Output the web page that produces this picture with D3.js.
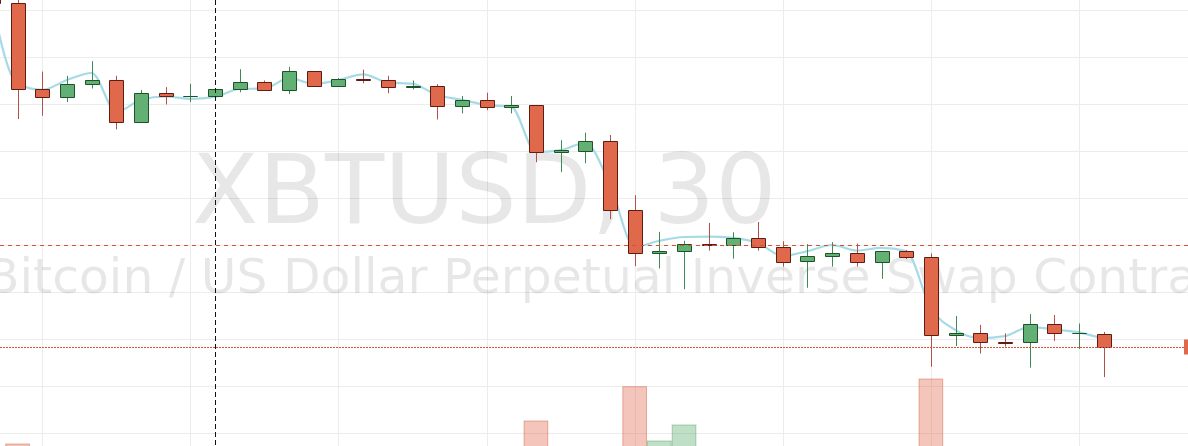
<!DOCTYPE html>
<html><head><meta charset="utf-8">
<script src="https://cdn.jsdelivr.net/npm/d3@7/dist/d3.min.js"></script>
<style>html,body{margin:0;padding:0;background:#fff;overflow:hidden}</style>
</head><body>
<svg id="chart" width="1188" height="446"></svg>
<script>
// XBTUSD 30-minute bars (index 0 is the bar just left of the view)
const times = ["08:30","09:00","09:30","10:00","10:30","11:00","11:30","12:00","12:30","13:00",
               "13:30","14:00","14:30","15:00","15:30","16:00","16:30","17:00","17:30","18:00",
               "18:30","19:00","19:30","20:00","20:30","21:00","21:30","22:00","22:30","23:00",
               "23:30","00:00","00:30","01:00","01:30","02:00","02:30","03:00","03:30","04:00",
               "04:30","05:00","05:30","06:00","06:30","07:00"];
const opens  = [6604.0,6591.4,6573.1,6571.4,6574.2,6575.0,6566.1,6572.3,6571.6,6571.6,
                6573.1,6574.7,6572.9,6577.0,6573.8,6575.3,6575.0,6573.6,6573.8,6569.6,
                6570.8,6569.3,6569.8,6559.7,6560.1,6562.1,6547.4,6538.4,6538.7,6540.2,
                6540.1,6541.4,6539.5,6536.5,6537.6,6538.3,6536.3,6538.7,6537.4,6520.8,
                6521.2,6519.3,6519.3,6523.1,6521.2,6521.1];
const highs  = [6606.0,6592.6,6576.9,6576.0,6579.1,6576.0,6573.0,6573.6,6574.3,6573.4,
                6577.4,6575.0,6577.9,6577.0,6575.5,6577.3,6576.0,6575.0,6574.2,6571.7,
                6572.4,6571.7,6569.8,6562.3,6563.9,6563.4,6550.6,6542.8,6540.9,6544.7,
                6542.7,6544.9,6540.8,6540.2,6540.6,6540.3,6538.7,6538.9,6538.2,6524.9,
                6523.0,6521.2,6525.3,6525.1,6523.3,6521.5];
const lows   = [6590.6,6566.8,6567.5,6570.4,6573.3,6564.6,6566.1,6569.9,6570.4,6571.6,
                6572.5,6572.9,6572.1,6573.8,6573.8,6574.4,6572.3,6573.1,6566.7,6568.0,
                6568.7,6568.0,6557.6,6555.5,6557.4,6545.5,6535.5,6535.0,6530.6,6538.8,
                6537.1,6538.8,6535.4,6530.9,6535.4,6535.4,6532.8,6537.0,6514.1,6518.5,
                6516.9,6518.4,6513.9,6519.6,6517.9,6511.9];
const closes = [6591.5,6573.1,6571.4,6574.2,6575.0,6566.1,6572.3,6571.6,6571.7,6573.2,
                6574.7,6572.9,6577.0,6573.8,6575.3,6575.1,6573.6,6573.8,6569.5,6570.9,
                6569.3,6569.8,6559.7,6560.2,6562.1,6547.4,6538.4,6538.7,6540.2,6540.1,
                6541.4,6539.5,6536.4,6537.7,6538.3,6536.3,6538.7,6537.4,6520.8,6521.2,
                6519.3,6519.2,6523.1,6521.2,6521.3,6518.3];
// volume, millions of contracts
const volumes = [2.5,3.6,2.1,1.6,1.8,2.9,2.4,1.2,1.0,1.3,
                 1.5,0.9,1.9,1.4,0.8,0.9,1.1,0.7,2.6,1.2,
                 1.3,0.9,5.9,2.2,1.8,3.3,9.33,3.9,5.5,2.0,
                 1.6,1.9,2.3,2.5,1.2,1.7,2.0,0.9,10.1,2.8,
                 2.4,1.1,3.1,1.6,1.0,2.7];
// moving-average line
const maValues = [6590.4,6574.3,6573.0,6575.1,6576.6,6568.3,6570.9,6571.6,6571.1,6571.5,
                  6573.2,6573.3,6575.5,6574.3,6575.1,6576.3,6574.6,6574.3,6571.9,6570.9,
                  6569.8,6569.4,6559.8,6560.2,6561.7,6552.8,6539.6,6540.9,6541.7,6541.8,
                  6541.5,6540.4,6537.7,6538.7,6540.0,6538.8,6539.4,6538.7,6526.6,6521.9,
                  6520.2,6520.6,6522.6,6522.0,6521.4,6520.0];
const priceTicks = [6590,6580,6570,6560,6550,6540,6530,6520,6510,6500];
const timeTickLabels = ["09:30","12:30","15:30","18:30","21:30","00:30","03:30","06:30"];
const referencePrice = 6539.9;   // dashed red price line
const crosshairTime = "13:00";
const symbolText = "XBTUSD, 30";
const descriptionText = "Bitcoin / US Dollar Perpetual Inverse Swap Contract";

const W = 1188, H = 446;
const svg = d3.select("#chart");
const n = closes.length;
const idx = d3.range(n);

const x = d3.scaleLinear().domain([1, 45]).range([17.6, 1103.65]);
const step = x(1) - x(0);
const y = d3.scaleLinear().domain([6590, 6500]).range([10, 433]);
const yv = d3.scaleLinear().domain([0, 10]).range([480, 380]);

const isUp = i => closes[i] >= opens[i];
const crisp = v => Math.round(v) + 0.5;

const C = {
  grid: "#ececec",
  upFill: "#62b073", upBorder: "#1f5229", upWick: "#3f8a50",
  dnFill: "#e0684b", dnBorder: "#5e1c12", dnWick: "#b2504a",
  upVol: "rgba(98,176,115,0.40)", upVolStroke: "rgba(80,160,100,0.45)",
  dnVol: "rgba(224,103,76,0.38)", dnVolStroke: "rgba(210,90,65,0.45)",
  ma: "#a6dbe6", priceLine: "#d2533a"
};

svg.append("rect").attr("width", W).attr("height", H).attr("fill", "#fff");

// grid
const timeIndex = t => times.indexOf(t);
svg.append("g").selectAll("line.v").data(timeTickLabels).join("line")
  .attr("x1", d => crisp(x(timeIndex(d)))).attr("x2", d => crisp(x(timeIndex(d))))
  .attr("y1", 0).attr("y2", H).attr("stroke", C.grid).attr("stroke-width", 1);
svg.append("g").selectAll("line.h").data(priceTicks).join("line")
  .attr("x1", 0).attr("x2", W)
  .attr("y1", d => crisp(y(d))).attr("y2", d => crisp(y(d)))
  .attr("stroke", C.grid).attr("stroke-width", 1);

// watermark
svg.append("text").text(symbolText)
  .attr("x", 192).attr("y", 223)
  .attr("font-family", "DejaVu Sans").attr("font-size", 97)
  .attr("fill", "rgba(0,0,0,0.095)");
svg.append("text").text(descriptionText)
  .attr("x", -14).attr("y", 293)
  .attr("font-family", "DejaVu Sans").attr("font-size", 48.8)
  .attr("fill", "rgba(0,0,0,0.095)");

// volume
svg.append("g").selectAll("rect").data(idx).join("rect")
  .attr("x", i => x(i) - step / 2 + 0.5)
  .attr("width", step - 1)
  .attr("y", i => yv(volumes[i]))
  .attr("height", i => yv(0) - yv(volumes[i]))
  .attr("fill", i => isUp(i) ? C.upVol : C.dnVol)
  .attr("stroke", i => isUp(i) ? C.upVolStroke : C.dnVolStroke)
  .attr("stroke-width", 1);

// moving average line
const maLine = d3.line().x(i => x(i)).y(i => y(maValues[i])).curve(d3.curveMonotoneX);
svg.append("path").datum(idx).attr("d", maLine)
  .attr("fill", "none").attr("stroke", C.ma).attr("stroke-width", 2.2)
  .attr("stroke-linejoin", "round");

// wicks
svg.append("g").selectAll("line").data(idx).join("line")
  .attr("x1", i => crisp(x(i))).attr("x2", i => crisp(x(i)))
  .attr("y1", i => y(highs[i])).attr("y2", i => y(lows[i]))
  .attr("stroke", i => isUp(i) ? C.upWick : C.dnWick).attr("stroke-width", 1);

// bodies
svg.append("g").selectAll("path").data(idx).join("path")
  .attr("d", i => {
    const x0 = Math.round(x(i)) - 7 + 0.5;
    const y0 = Math.round(y(Math.max(opens[i], closes[i]))) + 0.5;
    const y1 = Math.round(y(Math.min(opens[i], closes[i]))) + 0.5;
    return `M${x0},${y0}H${x0 + 14}V${y1}H${x0}Z`;
  })
  .attr("fill", i => isUp(i) ? C.upFill : C.dnFill)
  .attr("stroke", i => isUp(i) ? C.upBorder : C.dnBorder)
  .attr("stroke-width", 1);

// price lines
svg.append("line").attr("x1", 0).attr("x2", W)
  .attr("y1", crisp(y(referencePrice))).attr("y2", crisp(y(referencePrice)))
  .attr("stroke", C.priceLine).attr("stroke-width", 1).attr("stroke-dasharray", "4,4");
const last = closes[n - 1];
svg.append("line").attr("x1", 0).attr("x2", W)
  .attr("y1", crisp(y(last))).attr("y2", crisp(y(last)))
  .attr("stroke", C.priceLine).attr("stroke-width", 1).attr("stroke-dasharray", "2,1");

// price label stub at right edge
svg.append("rect").attr("x", 1184).attr("width", 20)
  .attr("y", y(last) - 7.5).attr("height", 15).attr("fill", C.dnFill);

// crosshair
const cx = crisp(x(timeIndex(crosshairTime)));
svg.append("line").attr("x1", cx).attr("x2", cx).attr("y1", 0).attr("y2", H)
  .attr("stroke", "#111").attr("stroke-width", 1).attr("stroke-dasharray", "5,3");
</script>
</body></html>
